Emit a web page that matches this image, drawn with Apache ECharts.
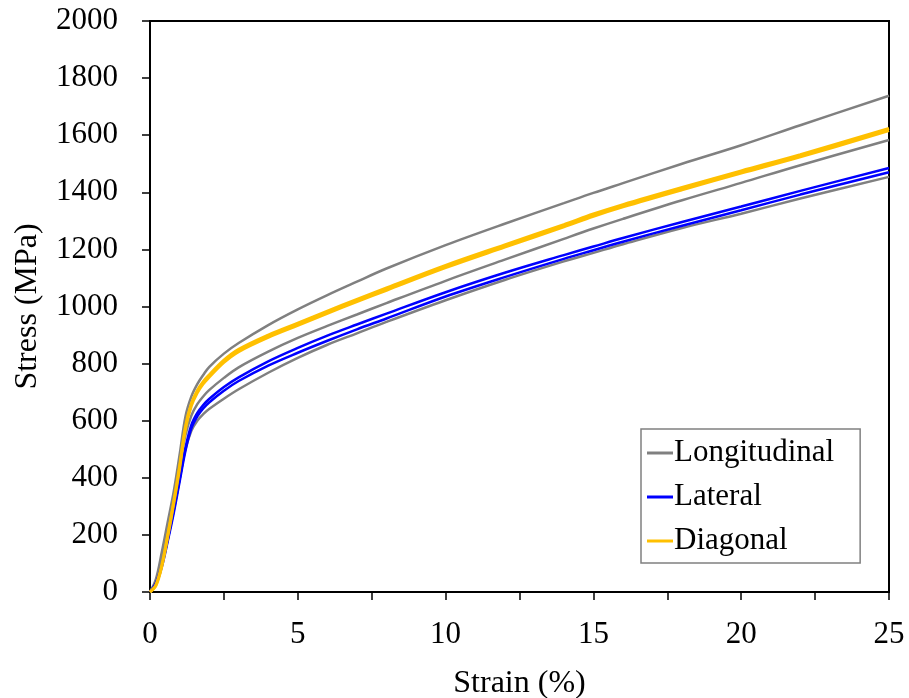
<!DOCTYPE html>
<html>
<head>
<meta charset="utf-8">
<script src="https://cdn.jsdelivr.net/npm/echarts@6/dist/echarts.min.js"></script>
<style>html,body{margin:0;padding:0;background:#fff;}#c{width:909px;height:698px;}</style>
</head>
<body>
<div id="c"></div>
<script>
const strain = [0,0.2,0.4,0.6,0.8,1.0,1.2,1.4,1.6,1.8,2.0,2.5,3,4,5,6,7,8,10,12,14,15,16,18,20,22,25];
const long1 = [0,45,140,245,350,480,615,685,728,760,788,835,872,935,990,1040,1087,1133,1215,1290,1362,1398,1432,1500,1565,1635,1738];
const long2 = [0,35,115,215,320,440,550,618,658,685,707,750,787,842,890,932,972,1012,1090,1164,1237,1273,1307,1372,1433,1495,1583];
const long3 = [0,30,95,185,285,395,500,565,600,623,641,677,710,768,820,866,906,946,1022,1093,1158,1188,1218,1275,1325,1378,1454];
const lat1 = [0,32,95,185,285,395,505,585,627,655,676,718,752,808,855,898,937,975,1050,1118,1180,1210,1240,1296,1350,1405,1485];
const lat2 = [0,28,88,178,275,385,495,573,615,643,664,705,739,793,838,880,920,958,1035,1103,1167,1197,1227,1283,1337,1392,1470];
const diag1 = [0,25,95,200,315,440,580,660,706,737,760,812,850,900,942,984,1025,1065,1144,1216,1287,1324,1357,1417,1475,1532,1624];
const diag2 = [0,22,90,194,308,432,571,652,698,729,752,804,842,892,934,976,1017,1057,1136,1208,1279,1316,1349,1409,1467,1524,1616];
const yTicks = [0,200,400,600,800,1000,1200,1400,1600,1800,2000];
const xTicks = [0,5,10,15,20,25];

const GRAY = '#808080', BLUE = '#0000FF', ORANGE = '#FFC000';
const FONT = 'Liberation Serif';

function pts(ys){ return strain.map((x,i)=>[x, ys[i]]); }
function ser(name, ys, color, w){
  return {name, type:'line', data: pts(ys), smooth: 0.35, symbol:'none', showSymbol:false,
    lineStyle:{color, width:w}, itemStyle:{color}, animation:false};
}

const chart = echarts.init(document.getElementById('c'), null, {renderer:'canvas'});
chart.setOption({
  animation:false,
  backgroundColor:'#fff',
  grid:{left:150, right:20, top:21, bottom:106, containLabel:false, outerBoundsMode:'none',
    show:true, borderColor:'#000', borderWidth:2},
  xAxis:{type:'value', min:0, max:25, interval:2.5,
    name:'Strain (%)', nameLocation:'middle', nameGap:76,
    nameTextStyle:{fontFamily:FONT, fontSize:32, color:'#000'},
    axisLine:{show:true, lineStyle:{color:'#000', width:2}},
    axisTick:{show:true, length:8, lineStyle:{color:'#000', width:1.5}},
    axisLabel:{fontFamily:FONT, fontSize:31, color:'#000', margin:27,
      formatter: v => xTicks.indexOf(v) >= 0 ? String(v) : ''},
    splitLine:{show:false}},
  yAxis:{type:'value', min:0, max:2000, interval:200,
    name:'Stress (MPa)', nameLocation:'middle', nameGap:106,
    nameTextStyle:{fontFamily:FONT, fontSize:32, color:'#000'},
    axisLine:{show:true, lineStyle:{color:'#000', width:2}},
    axisTick:{show:true, length:8, lineStyle:{color:'#000', width:1.5}},
    axisLabel:{fontFamily:FONT, fontSize:31, color:'#000', margin:32,
      formatter: v => yTicks.indexOf(v) >= 0 ? String(v) : ''},
    splitLine:{show:false}},
  legend:{orient:'vertical', left:641, top:429, icon:'rect', itemWidth:26, itemHeight:3,
    itemGap:12, padding:[8,26,6,6], borderColor:'#808080', borderWidth:1.5, backgroundColor:'#fff',
    data:['Longitudinal','Lateral','Diagonal'],
    textStyle:{fontFamily:FONT, fontSize:31, color:'#000', lineHeight:32, padding:[0,0,0,-4]}},
  series:[
    ser('Longitudinal', long1, GRAY, 2.5),
    ser('Longitudinal', long2, GRAY, 2.5),
    ser('Longitudinal', long3, GRAY, 2.5),
    ser('Lateral', lat1, BLUE, 2.5),
    ser('Lateral', lat2, BLUE, 2.5),
    ser('Diagonal', diag1, ORANGE, 3),
    ser('Diagonal', diag2, ORANGE, 3)
  ]
});
</script>
</body>
</html>
